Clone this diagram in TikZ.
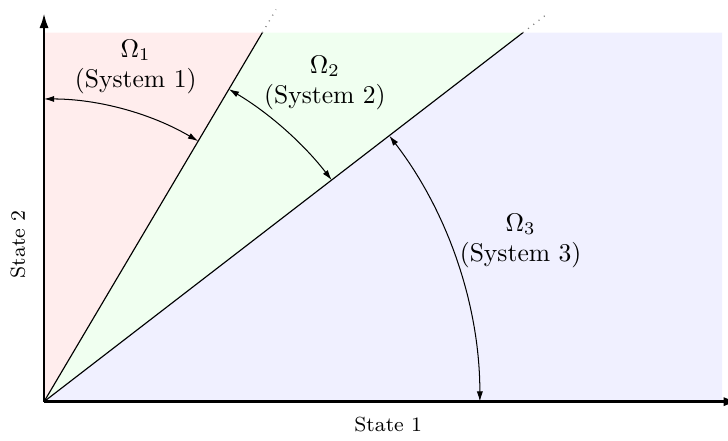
\documentclass[tikz,border=0pt]{standalone}
\usepackage{amsmath,amssymb}
\usepackage{xcolor}
\usepackage{tikz}
\usetikzlibrary{arrows.meta,positioning,calc}
\tikzset{
  axis/.style={line width=1.1pt,-{Latex[length=6pt,width=3.6pt]}},
  bound/.style={line width=0.45pt},
  ext/.style={line width=0.5pt,gray,dash pattern=on 0.4pt off 2.2pt},
  arr/.style={{Latex[length=4pt,width=2.4pt]}-{Latex[length=4pt,width=2.4pt]},line width=0.4pt},
  lbl/.style={align=center,font=\normalsize,inner sep=1pt},
  axlbl/.style={font=\footnotesize,inner sep=1pt},
}

\begin{document}
\begin{tikzpicture}

\useasboundingbox (-0.605,-0.536) rectangle (9.40,5.52);

% sector boundaries
\coordinate (O)  at (0,0);
\coordinate (tl) at (0,5.07);
\coordinate (l1) at (3.0,5.07);
\coordinate (l2) at (6.58,5.07);
\coordinate (tr) at (9.32,5.07);
\coordinate (br) at (9.32,0);

% regions
\fill[red!7]   (O) -- (tl) -- (l1) -- cycle;
\fill[green!6] (O) -- (l1) -- (l2) -- cycle;
\fill[blue!6]  (O) -- (l2) -- (tr) -- (br) -- cycle;

\draw[bound] (O) -- (l1);
\draw[bound] (O) -- (l2);
\draw[ext] (l1) -- ($(O)!1.063!(l1)$);
\draw[ext] (l2) -- ($(O)!1.05!(l2)$);

% axes
\coordinate (xe) at (9.55,0);
\coordinate (ye) at (0,5.345);
\draw[axis] (O) -- (xe);
\draw[axis] (O) -- (ye);
\node[axlbl] (xl) at (4.73,-0.32) {State 1};
\node[axlbl,rotate=90] (yl) at (-0.36,2.16) {State 2};

% angle arcs
\coordinate (a1) at (90:4.16);
\coordinate (a2) at (59.4:4.99);
\coordinate (a3) at (37.6:5.99);
\draw[arr] (a1) arc[start angle=90,end angle=59.4,radius=4.16];
\draw[arr] (a2) arc[start angle=59.4,end angle=37.6,radius=4.99];
\draw[arr] (a3) arc[start angle=37.6,end angle=0,radius=5.99];

% labels
\node[lbl] (s1) at (1.26,4.60) {$\Omega_1$\\(System 1)};
\node[lbl] (s2) at (3.86,4.38) {$\Omega_2$\\(System 2)};
\node[lbl] (s3) at (6.55,2.21) {$\Omega_3$\\(System 3)};
\end{tikzpicture}
\end{document}
